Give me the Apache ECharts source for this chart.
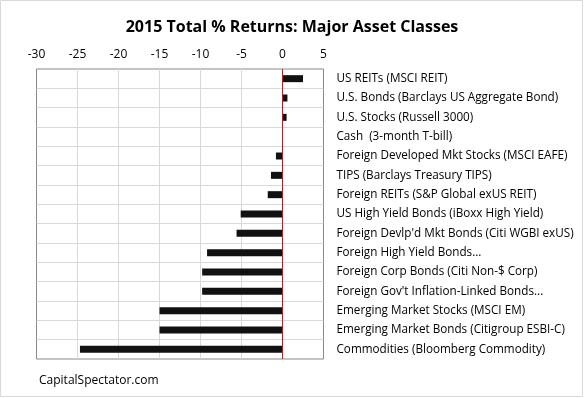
<!DOCTYPE html>
<html>
<head>
<meta charset="utf-8">
<script src="https://cdn.jsdelivr.net/npm/echarts@6/dist/echarts.min.js"></script>
<style>
  html, body { margin: 0; padding: 0; background: #fff; }
</style>
</head>
<body>
<div id="returns" style="width: 584px; height: 398px;"></div>
<script>
// 2015 total returns, top to bottom
const assetClasses = [
  "US REITs (MSCI REIT)",
  "U.S. Bonds (Barclays US Aggregate Bond)",
  "U.S. Stocks (Russell 3000)",
  "Cash  (3-month T-bill)",
  "Foreign Developed Mkt Stocks (MSCI EAFE)",
  "TIPS (Barclays Treasury TIPS)",
  "Foreign REITs (S&P Global exUS REIT)",
  "US High Yield Bonds (iBoxx High Yield)",
  "Foreign Devlp'd Mkt Bonds (Citi WGBI exUS)",
  "Foreign High Yield Bonds...",
  "Foreign Corp Bonds (Citi Non-$ Corp)",
  "Foreign Gov't Inflation-Linked Bonds...",
  "Emerging Market Stocks (MSCI EM)",
  "Emerging Market Bonds (Citigroup ESBI-C)",
  "Commodities (Bloomberg Commodity)"
];
const totalReturns = [2.5, 0.6, 0.5, 0.03, -0.8, -1.4, -1.8, -5.1, -5.6, -9.2, -9.8, -9.8, -15.0, -15.0, -24.7];
const xTicks = [-30, -25, -20, -15, -10, -5, 0, 5];

let chart = echarts.init(document.getElementById('returns'));

let option = {
  animation: false,
  title: {
    text: '2015 Total % Returns: Major Asset Classes',
    left: 'center',
    top: 14,
    textStyle: {
      fontFamily: 'Open Sans',
      fontWeight: 'bold',
      fontSize: 16,
      color: '#000'
    }
  },
  graphic: [
    {
      type: 'rect',
      shape: { x: 0.5, y: 0.5, width: 582, height: 396 },
      style: { fill: null, stroke: '#d9d9d9', lineWidth: 1 },
      silent: true
    },
    {
      type: 'text',
      left: 39,
      top: 375,
      style: {
        text: 'CapitalSpectator.com',
        fontFamily: 'Open Sans',
        fontSize: 12,
        fill: '#000'
      }
    }
  ],
  // 41 px per 5 units, so every gridline falls on a pixel centre
  grid: {
    left: 36.5,
    right: 260.5,
    top: 69,
    bottom: 39,
    show: true,
    borderColor: '#898989',
    borderWidth: 1
  },
  xAxis: {
    type: 'value',
    position: 'top',
    min: xTicks[0],
    max: xTicks[xTicks.length - 1],
    interval: 5,
    axisLine: { show: false },
    axisTick: { show: false },
    axisLabel: {
      margin: 8,
      fontFamily: 'Open Sans',
      fontSize: 12,
      color: '#000'
    },
    splitLine: {
      show: true,
      showMinLine: false,
      showMaxLine: false,
      lineStyle: { color: '#d9d9d9', type: 'solid', width: 1 }
    }
  },
  yAxis: {
    type: 'category',
    data: assetClasses,
    inverse: true,
    position: 'right',
    axisLine: { show: false },
    axisTick: { show: false },
    axisLabel: {
      margin: 13,
      align: 'left',
      fontFamily: 'Open Sans',
      fontSize: 11.7,
      color: '#000'
    },
    splitLine: {
      show: true,
      showMinLine: false,
      showMaxLine: false,
      lineStyle: { color: '#d9d9d9', width: 1 }
    }
  },
  series: [
    {
      name: '2015',
      type: 'bar',
      data: totalReturns,
      barWidth: 7,
      itemStyle: { color: '#111111' },
      markLine: {
        silent: true,
        symbol: 'none',
        label: { show: false },
        lineStyle: { color: '#ff0000', type: 'solid', width: 1 },
        data: [{ xAxis: 0 }]
      }
    }
  ]
};

chart.setOption(option);
</script>
</body>
</html>
